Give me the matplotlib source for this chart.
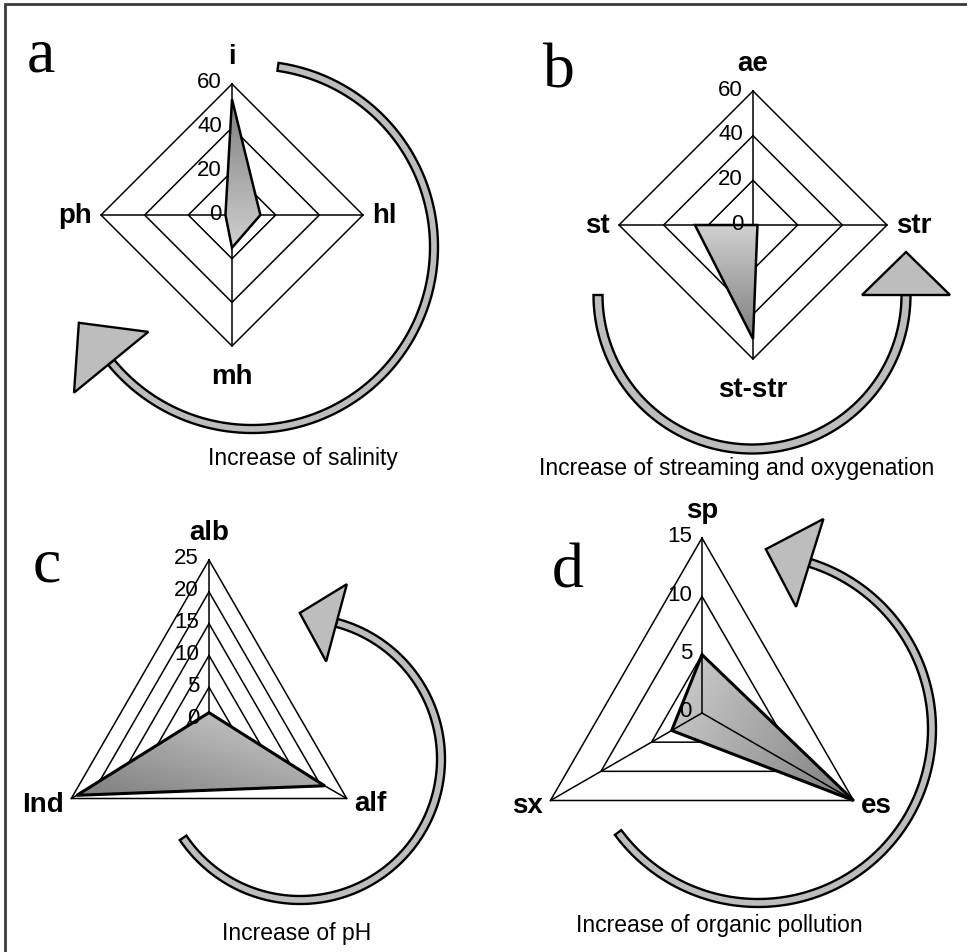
"""Four radar panels (a-d) with curved 'increase of ...' arrows, Excel style."""
import numpy as np
import matplotlib; matplotlib.use("Agg")
import matplotlib.pyplot as plt
from matplotlib.patches import Polygon
from matplotlib.colors import LinearSegmentedColormap

plt.rcParams["font.family"] = ["Liberation Sans", "DejaVu Sans"]
W, H = 967, 953
PT = 0.72  # points per pixel at dpi 100

# --- data ---
a_names = ["i", "hl", "mh", "ph"]
a_vals = [53, 13, 15, 3]
a_ticks = [0, 20, 40, 60]
a_caption = "Increase of salinity"

b_names = ["ae", "str", "st-str", "st"]
b_vals = [0, 2, 51, 26]
b_ticks = [0, 20, 40, 60]
b_caption = "Increase of streaming and oxygenation"

c_names = ["alb", "alf", "Ind"]
c_vals = [1, 21, 24]
c_ticks = [0, 5, 10, 15, 20, 25]
c_caption = "Increase of pH"

d_names = ["sp", "es", "sx"]
d_vals = [5, 15, 3]
d_ticks = [0, 5, 10, 15]
d_caption = "Increase of organic pollution"

fig = plt.figure(figsize=(W / 100, H / 100), dpi=100)
bg = fig.add_axes([0, 0, 1, 1])
bg.set_xlim(0, W); bg.set_ylim(H, 0); bg.axis("off")
bg.plot([5, 5, W], [H, 5, 5], color="#3a3a3a", lw=2, solid_joinstyle="miter")

shade = LinearSegmentedColormap.from_list("shade", ["#d0d0d0", "#7e7e7e"])


def radar(cx, cy, ppu, names, vals, ticks, dark_dir, spokes_on_top=False, edge_lw=1.8):
    half = 215
    ax = fig.add_axes([(cx - half) / W, 1 - (cy + half) / H, 2 * half / W, 2 * half / H])
    ax.set_xlim(-half / ppu, half / ppu); ax.set_ylim(-half / ppu, half / ppu)
    ax.axis("off")
    n = len(names)
    ang = np.pi / 2 - 2 * np.pi * np.arange(n) / n
    ux, uy = np.cos(ang), np.sin(ang)
    top = ticks[-1]
    for t in ticks[1:]:
        ax.plot(np.append(t * ux, t * ux[0]), np.append(t * uy, t * uy[0]), color="black", lw=1.1, zorder=1)
    for k in range(n):
        ax.plot([0, top * ux[k]], [0, top * uy[k]], color="black", lw=1.1, zorder=4 if spokes_on_top else 1)
    v = np.asarray(vals, float)
    verts = np.column_stack([v * ux, v * uy])
    poly = Polygon(verts, closed=True, facecolor="none", edgecolor="black", lw=edge_lw, zorder=3)
    ax.add_patch(poly)
    # gradient fill clipped to the series polygon
    x0, y0 = verts.min(axis=0); x1, y1 = verts.max(axis=0)
    gx, gy = np.meshgrid(np.linspace(x0, x1, 200), np.linspace(y0, y1, 200))
    dx, dy = dark_dir
    z = gx * dx + gy * dy
    z = (z - z.min()) / (np.ptp(z) + 1e-9)
    im = ax.imshow(z, extent=[x0, x1, y0, y1], origin="lower", cmap=shade, aspect="auto", zorder=2)
    im.set_clip_path(poly)
    ax.set_xlim(-half / ppu, half / ppu); ax.set_ylim(-half / ppu, half / ppu)
    # tick labels up the first axis
    for t in ticks:
        ax.annotate(str(t), xy=(0, t), xytext=(-10 * PT, 2 * PT), textcoords="offset points",
                    ha="right", va="center", fontsize=16, zorder=6)
    # category labels
    for k, name in enumerate(names):
        c, s = ux[k], uy[k]
        xy = (top * c, top * s)
        if abs(c) < 0.1:
            off = (0, 21 * PT) if s > 0 else (0, -17 * PT)
            ha, va = "center", ("baseline" if s > 0 else "top")
        else:
            off = (9 * c * PT, 10 * s * PT)
            ha, va = ("left" if c > 0 else "right"), "center"
        ax.annotate(name, xy=xy, xytext=off, textcoords="offset points", ha=ha, va=va,
                    fontsize=20, fontweight="bold", zorder=6)
    return ax


def arrow(cx, cy, r, t0, t1, w=8, head_len=45, head_hw=45):
    t = np.radians(np.linspace(t0, t1, 200))
    outer = np.column_stack([cx + (r + w / 2) * np.cos(t), cy + (r + w / 2) * np.sin(t)])
    inner = np.column_stack([cx + (r - w / 2) * np.cos(t), cy + (r - w / 2) * np.sin(t)])
    bg.add_patch(Polygon(np.vstack([outer, inner[::-1]]), closed=True, facecolor="#bdbdbd",
                         edgecolor="black", lw=1.7, zorder=2))
    te = np.radians(t1)
    sgn = 1 if t1 > t0 else -1
    end = np.array([cx + r * np.cos(te), cy + r * np.sin(te)])
    d = sgn * np.array([-np.sin(te), np.cos(te)])
    nrm = np.array([np.cos(te), np.sin(te)])
    head = [end + head_hw * nrm, end + head_len * d, end - head_hw * nrm]
    bg.add_patch(Polygon(head, closed=True, facecolor="#bdbdbd", edgecolor="black", lw=1.7, zorder=3))


# arrows (screen angles, y pointing down)
arrow(252, 248, 182, -81.8, 140.7, head_len=51, head_hw=48)
arrow(752, 296, 154, 180, 0, w=9, head_len=43, head_hw=44)
arrow(300, 760, 141, 146, -75, head_len=38, head_hw=40)
arrow(758, 730, 174, 143.5, -72.7, head_len=46, head_hw=46)

radar(232, 216, 131 / 60, a_names, a_vals, a_ticks, dark_dir=(0, 1))
radar(753, 226, 134 / 60, b_names, b_vals, b_ticks, dark_dir=(0, -1))
radar(209, 720, 159 / 25, c_names, c_vals, c_ticks, dark_dir=(-0.3, -1), edge_lw=2.2)
radar(702, 714, 175 / 15, d_names, d_vals, d_ticks, dark_dir=(1, -0.6), spokes_on_top=True, edge_lw=2.2)

# panel letters and captions
for letter, x, y in [("a", 27, 72), ("b", 543, 88), ("c", 33, 582), ("d", 552, 588)]:
    bg.text(x, y, letter, fontsize=46, family="Liberation Serif", ha="left", va="baseline")
for cap, x, y in [(a_caption, 303, 465), (b_caption, 737, 475), (c_caption, 297, 940), (d_caption, 719, 932)]:
    bg.text(x, y, cap, fontsize=16.5, ha="center", va="baseline")

fig.savefig("out.png", dpi=100)
